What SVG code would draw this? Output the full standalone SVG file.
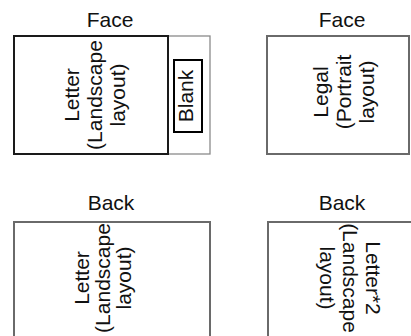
<svg xmlns="http://www.w3.org/2000/svg" width="411" height="336" viewBox="0 0 411 336">
<style>
text{font-family:"Liberation Sans",Arial,sans-serif;font-size:21px;fill:#111;text-anchor:middle}
.dark{fill:none;stroke:#1a1a1a;stroke-width:2}
.gray{fill:none;stroke:#6a6a6a;stroke-width:2}
.light{fill:none;stroke:#8a8a8a;stroke-width:1.3}
</style>
<rect width="411" height="336" fill="#fff"/>
<g id="face-letter">
<text x="110" y="27">Face</text>
<rect class="light" x="168" y="36" width="42" height="118"/>
<rect class="dark" x="14" y="36" width="154" height="118"/>
<text transform="translate(79,95) rotate(-90)"><tspan x="0" y="0">Letter</tspan><tspan x="0" y="23">(Landscape</tspan><tspan x="0" y="46">layout)</tspan></text>
</g>
<g id="face-blank">
<rect x="174" y="60" width="28" height="72" fill="none" stroke="#000" stroke-width="2"/>
<text transform="translate(193,96) rotate(-90)">Blank</text>
</g>
<g id="face-legal">
<text x="342" y="27">Face</text>
<rect class="gray" x="267" y="36" width="142" height="118"/>
<text transform="translate(328,92) rotate(-90)"><tspan x="0" y="0">Legal</tspan><tspan x="0" y="23">(Portrait</tspan><tspan x="0" y="46">layout)</tspan></text>
</g>
<g id="back-letter">
<text x="111" y="210">Back</text>
<rect class="gray" x="14" y="222" width="196" height="130"/>
<text transform="translate(89,278) rotate(-90)"><tspan x="0" y="0">Letter</tspan><tspan x="0" y="21">(Landscape</tspan><tspan x="0" y="42">layout)</tspan></text>
</g>
<g id="back-letter2">
<text x="342" y="210">Back</text>
<rect class="gray" x="268" y="222" width="160" height="130"/>
<text transform="translate(366,278) rotate(90)"><tspan x="0" y="0">Letter*2</tspan><tspan x="0" y="23">(Landscape</tspan><tspan x="0" y="46">layout)</tspan></text>
</g>
<g id="connectors"></g>
</svg>
